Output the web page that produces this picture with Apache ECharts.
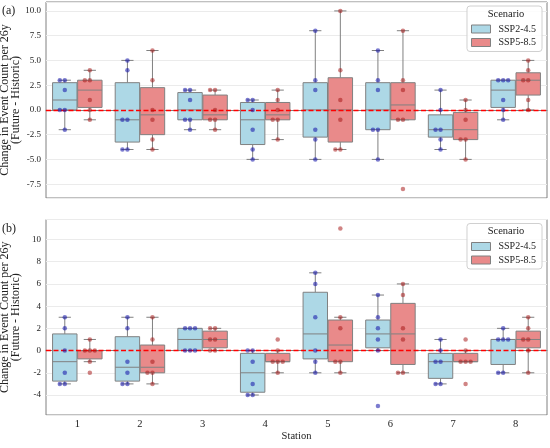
<!DOCTYPE html>
<html>
<head>
<meta charset="utf-8">
<script src="https://cdn.jsdelivr.net/npm/echarts@6/dist/echarts.min.js"></script>
<style>html,body{margin:0;padding:0;background:#fff}#main{width:550px;height:448px}</style>
</head>
<body>
<div id="main"></div>
<script>
// station labels and scenario names
var stations = ['1', '2', '3', '4', '5', '6', '7', '8'];
var scenarios = ['SSP2-4.5', 'SSP5-8.5'];

// change in event count, one array of model values per station
// panel (a)
var a245 = [
    [3, 3, 2, 0, 0, -2],
    [5, 4, -1, -1, -4, -4],
    [2, 2, 1, -1, -1, -2],
    [1, 1, 0, -2, -4, -5],
    [8, 3, 2, -2, -3, -5],
    [6, 3, 2, -2, -2, -5],
    [2, 0, -2, -2, -3, -4],
    [3, 3, 3, 1, 0, -1]
];
var a585 = [
    [4, 3, 3, 1, 0, -1],
    [6, 3, 0, -1, -3, -4],
    [2, 2, 0, -1, -1, -2],
    [2, 1, 0, -1, -1, -3],
    [10, 4, 1, -1, -4, -4],
    [8, 3, 2, -1, -1, -8],
    [1, 0, -1, -3, -3, -5],
    [5, 4, 3, 3, 1, 0]
];
// panel (b)
var b245 = [
    [3, 2, 0, -2, -3, -3],
    [3, 2, -1, -2, -3, -3],
    [2, 2, 2, 0, 0, 0],
    [0, 0, -1, -3, -4, -4],
    [7, 6, 3, 0, -1, -2],
    [5, 3, 2, 1, 0, -5],
    [1, 0, -1, -1, -3, -3],
    [2, 1, 1, 1, -2, -2]
];
var b585 = [
    [1, 0, 0, 0, -1, -2],
    [3, 1, -1, -2, -2, -3],
    [2, 2, 1, 1, 0, 0],
    [1, 0, -1, -1, -1, -2],
    [11, 3, 2, -1, -1, -2],
    [6, 5, 2, 1, -2, -2],
    [1, 0, -1, -1, -1, -3],
    [3, 2, 1, 1, 0, -2]
];

var FONT = "'Liberation Serif', 'Times New Roman', serif";
var fills = ['#add8e6', '#e98a8a'];
var dots = ['rgba(20,20,170,0.7)', 'rgba(165,20,20,0.65)'];
var edge = '#808080';
var yName = 'Change in Event Count per 26y\n(Future - Historic)';

var gridLeft = 46, gridWidth = 501;
var band = gridWidth / stations.length;
var dodge = 0.2;

var panels = [
    {letter: '(a)', top: 2, height: 196, min: -8.9, max: 10.9, step: 2.5, dec: 1, sets: [a245, a585], showX: false},
    {letter: '(b)', top: 219.5, height: 195.5, min: -5.8, max: 11.8, step: 2, dec: 0, sets: [b245, b585], showX: true}
];

// quartiles like numpy (linear), whiskers to last point inside 1.5 IQR
function boxStats(vals) {
    var s = vals.slice().sort(function (a, b) { return a - b; });
    function q(p) {
        var h = (s.length - 1) * p, i = Math.floor(h);
        var next = i + 1 < s.length ? s[i + 1] : s[i];
        return s[i] + (h - i) * (next - s[i]);
    }
    var q1 = q(0.25), md = q(0.5), q3 = q(0.75), iqr = q3 - q1;
    var inside = s.filter(function (v) { return v >= q1 - 1.5 * iqr && v <= q3 + 1.5 * iqr; });
    return [inside[0], q1, md, q3, inside[inside.length - 1]];
}

function boxRenderer(shift, fill) {
    return function (params, api) {
        var cat = api.value(0);
        var bw = api.size([1, 0])[0];
        var w = bw * 0.39;
        var cx = api.coord([cat, 0])[0] + shift * bw;
        function y(i) { return api.coord([cat, api.value(i)])[1]; }
        var lo = y(1), q1 = y(2), md = y(3), q3 = y(4), hi = y(5);
        var ls = {stroke: edge, lineWidth: 1};
        return {
            type: 'group',
            children: [
                {type: 'line', shape: {x1: cx, y1: hi, x2: cx, y2: q3}, style: ls},
                {type: 'line', shape: {x1: cx, y1: q1, x2: cx, y2: lo}, style: ls},
                {type: 'line', shape: {x1: cx - w / 4, y1: hi, x2: cx + w / 4, y2: hi}, style: ls},
                {type: 'line', shape: {x1: cx - w / 4, y1: lo, x2: cx + w / 4, y2: lo}, style: ls},
                {type: 'rect', shape: {x: cx - w / 2, y: q3, width: w, height: q1 - q3},
                    style: {fill: fill, stroke: edge, lineWidth: 1}},
                {type: 'line', shape: {x1: cx - w / 2, y1: md, x2: cx + w / 2, y2: md}, style: ls}
            ]
        };
    };
}

var grid = [], xAxis = [], yAxis = [], series = [], legend = [], graphic = [];

panels.forEach(function (p, k) {
    var base = k * 3;
    grid.push({left: gridLeft, top: p.top, width: gridWidth, height: p.height,
        show: true, borderColor: edge, borderWidth: 1, outerBoundsMode: 'none'});
    grid.push({left: gridLeft - dodge * band, top: p.top, width: gridWidth, height: p.height, outerBoundsMode: 'none'});
    grid.push({left: gridLeft + dodge * band, top: p.top, width: gridWidth, height: p.height, outerBoundsMode: 'none'});

    xAxis.push({
        type: 'category', gridIndex: base, data: stations,
        axisLine: {lineStyle: {color: edge}},
        axisTick: {alignWithLabel: true, length: 3.5, lineStyle: {color: edge}},
        axisLabel: {show: p.showX, fontSize: 10.5, fontFamily: FONT, color: '#222', margin: 4},
        splitLine: {show: false},
        name: p.showX ? 'Station' : '', nameLocation: 'middle', nameGap: 15.5, nameMoveOverlap: false,
        nameTextStyle: {fontFamily: FONT, fontSize: 10.5, color: '#222'}
    });
    yAxis.push({
        type: 'value', gridIndex: base, min: p.min, max: p.max,
        minInterval: p.step, maxInterval: p.step,
        axisLine: {show: false}, axisTick: {show: false},
        axisLabel: {
            fontSize: 9, fontFamily: FONT, color: '#222', margin: 5,
            formatter: function (v) {
                var r = v / p.step;
                if (Math.abs(r - Math.round(r)) > 1e-6) return '';
                return v.toFixed(p.dec);
            }
        },
        splitLine: {lineStyle: {color: '#ebebeb', width: 1}},
        name: yName, nameLocation: 'middle', nameGap: 25, nameMoveOverlap: false,
        nameTextStyle: {fontFamily: FONT, fontSize: 12, lineHeight: 11, color: '#222'}
    });

    p.sets.forEach(function (set, s) {
        var gi = base + 1 + s;
        xAxis.push({type: 'category', gridIndex: gi, data: stations, show: false,
            jitter: 14, jitterOverlap: false, jitterMargin: 0.5});
        yAxis.push({type: 'value', gridIndex: gi, min: p.min, max: p.max, show: false});

        var boxData = set.map(function (vals, i) { return [i].concat(boxStats(vals)); });
        var box = {
            type: 'custom', name: scenarios[s], xAxisIndex: base, yAxisIndex: base,
            renderItem: boxRenderer(s === 0 ? -dodge : dodge, fills[s]),
            encode: {x: 0, y: [1, 2, 3, 4, 5]},
            itemStyle: {color: fills[s], borderColor: edge},
            data: boxData, z: 2, silent: true
        };
        if (s === 0) {
            box.markLine = {
                silent: true, symbol: ['none', 'none'], label: {show: false},
                lineStyle: {color: '#ff0000', width: 1.3, type: [5, 2.5]},
                data: [{yAxis: 0}]
            };
        }
        series.push(box);

        var pts = [];
        set.forEach(function (vals, i) {
            vals.forEach(function (v) { pts.push([i, v]); });
        });
        series.push({
            type: 'scatter', name: scenarios[s], xAxisIndex: gi, yAxisIndex: gi,
            symbolSize: 4.5, itemStyle: {color: dots[s]}, data: pts, z: 6, silent: true
        });
    });

    legend.push({
        data: scenarios.map(function (n, s) { return {name: n, itemStyle: {color: fills[s]}}; }),
        orient: 'vertical', right: 8, top: p.top + 4,
        padding: [17, 6, 3, 4], itemGap: 1.5, itemWidth: 19, itemHeight: 8,
        icon: 'rect', selectedMode: false,
        itemStyle: {borderColor: edge, borderWidth: 1},
        backgroundColor: 'rgba(255,255,255,0.85)', borderColor: '#d0d0d0', borderWidth: 1, borderRadius: 3,
        textStyle: {fontFamily: FONT, fontSize: 10, lineHeight: 12, color: '#222', padding: [0, 0, 0, 3]}
    });
    graphic.push({
        type: 'text', x: 506, y: p.top + 12, z: 100,
        style: {text: 'Scenario', font: '10.5px ' + FONT, fill: '#222', textAlign: 'center', textVerticalAlign: 'middle'}
    });
    graphic.push({
        type: 'text', x: 2, y: p.top + 9, z: 100,
        style: {text: p.letter, font: '12px ' + FONT, fill: '#222', textAlign: 'left', textVerticalAlign: 'middle'}
    });
});

var myChart = echarts.init(document.getElementById('main'));
var option = {
    animation: false,
    backgroundColor: '#fff',
    grid: grid,
    xAxis: xAxis,
    yAxis: yAxis,
    legend: legend,
    graphic: graphic,
    series: series
};
myChart.setOption(option);
</script>
</body>
</html>
